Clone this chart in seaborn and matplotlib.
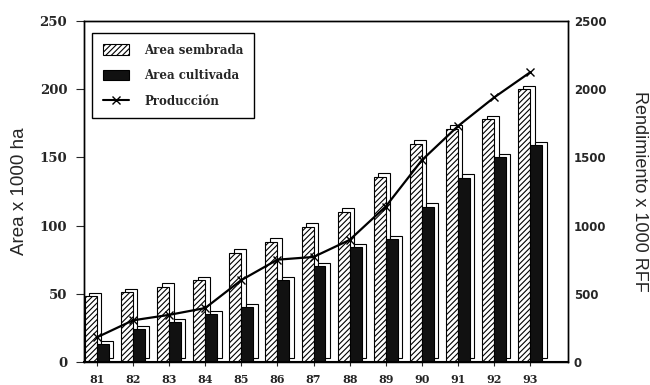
import numpy as np
import pandas as pd
import seaborn as sns
import matplotlib.pyplot as plt
from matplotlib import patheffects as pe
from matplotlib.patches import Patch
from matplotlib.lines import Line2D

# data
years = ['81', '82', '83', '84', '85', '86', '87', '88', '89', '90', '91', '92', '93']
area_sembrada = [48, 51, 55, 60, 80, 88, 99, 110, 136, 160, 171, 178, 200]
area_cultivada = [13, 24, 29, 35, 40, 60, 70, 84, 90, 114, 135, 150, 159]
produccion = [180, 305, 345, 395, 600, 750, 770, 895, 1140, 1480, 1730, 1940, 2125]

df = pd.DataFrame({
    'year': years * 2,
    'area': area_sembrada + area_cultivada,
    'serie': ['Area sembrada'] * len(years) + ['Area cultivada'] * len(years),
})

sns.set_style('white')
plt.rcParams['hatch.linewidth'] = 0.8

fig = plt.figure(figsize=(6.5, 3.85), dpi=100)
ax = fig.add_axes([0.129, 0.060, 0.745, 0.885])

sns.barplot(data=df, x='year', y='area', hue='serie', order=years,
            palette=['white', '#111111'], width=0.66, edgecolor='black',
            linewidth=0.8, legend=False, ax=ax)

# hatch the first series, fake the 3D side with an offset box behind each bar
for i, cont in enumerate(ax.containers):
    for bar in cont:
        if i == 0:
            bar.set_hatch('//////')
        bar.set_path_effects([
            pe.PathPatchEffect(offset=(3.2, 2.6), facecolor='white',
                               edgecolor='black', linewidth=0.8),
            pe.Normal(),
        ])

ax.set_xlim(-0.36, 13.05)
ax.set_ylim(0, 250)
ax.set_yticks([0, 50, 100, 150, 200, 250])
ax.set_xlabel('')
ax.set_ylabel('Area x 1000 ha', fontsize=13.5, family='Liberation Sans', labelpad=8)

ax2 = ax.twinx()
sns.lineplot(x=np.arange(len(years)), y=produccion, color='black', linewidth=1.6,
             marker='x', markersize=6, markeredgewidth=1.0,
             markeredgecolor='black', ax=ax2)
ax2.set_ylim(0, 2500)
ax2.set_yticks([0, 500, 1000, 1500, 2000, 2500])
ax2.set_ylabel('Rendimiento x 1000 RFF', fontsize=13, family='Liberation Sans',
               rotation=270, labelpad=30)

for a in (ax, ax2):
    for s in a.spines.values():
        s.set_color('black')
        s.set_linewidth(1.0)
ax.spines['bottom'].set_linewidth(1.5)

ax.tick_params(axis='y', direction='out', length=6, width=0.8, pad=6, left=True)
ax.tick_params(axis='x', direction='out', length=3, width=0.8, pad=6, bottom=True)
ax2.tick_params(axis='y', length=0, pad=4)

for lab in ax.get_yticklabels():
    lab.set_family('DejaVu Serif')
    lab.set_weight('bold')
    lab.set_fontsize(9.5)
for lab in ax.get_xticklabels():
    lab.set_family('DejaVu Serif')
    lab.set_weight('bold')
    lab.set_fontsize(8)
for lab in ax2.get_yticklabels():
    lab.set_family('DejaVu Sans')
    lab.set_weight('bold')
    lab.set_fontsize(8.5)

handles = [
    Patch(facecolor='white', edgecolor='black', hatch='//////', linewidth=0.8),
    Patch(facecolor='#111111', edgecolor='black', linewidth=0.8),
    Line2D([], [], color='black', marker='x', linewidth=1.5, markersize=6),
]
leg = ax2.legend(handles, ['Area sembrada', 'Area cultivada', 'Producción'],
                 loc='upper left', bbox_to_anchor=(0.017, 0.965), borderaxespad=0,
                 fancybox=False, frameon=True, edgecolor='black', framealpha=1,
                 prop={'family': 'DejaVu Serif', 'weight': 'bold', 'size': 8.5},
                 handlelength=2.2, handleheight=1.0, labelspacing=1.05,
                 borderpad=0.9, handletextpad=1.3)
leg.get_frame().set_linewidth(1.0)

fig.savefig('out.png', dpi=100)
